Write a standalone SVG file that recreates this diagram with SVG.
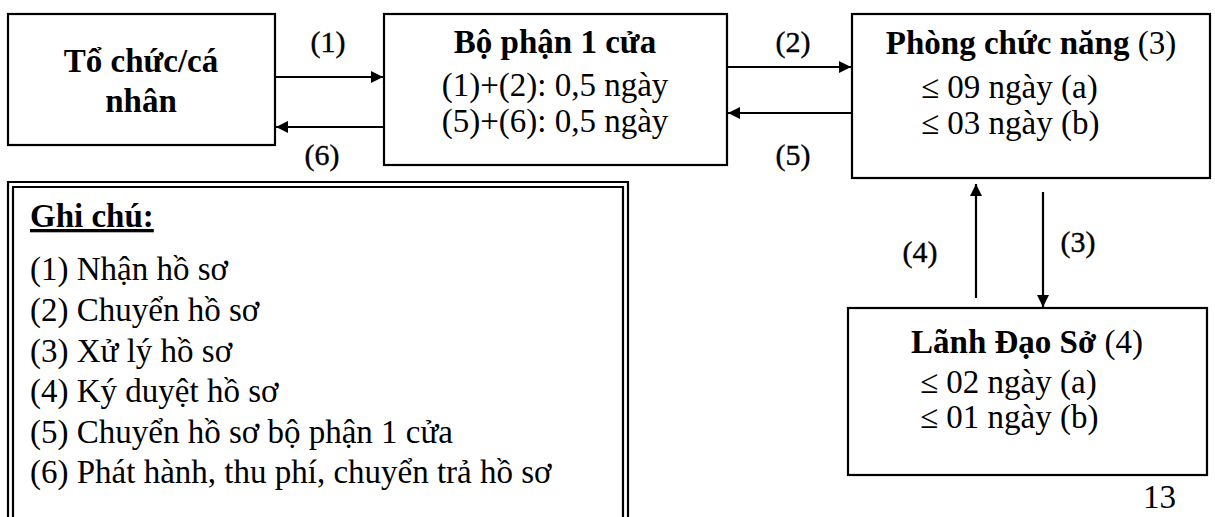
<svg xmlns="http://www.w3.org/2000/svg" width="1215" height="517" viewBox="0 0 1215 517">
<style>
  .box { fill: #fff; stroke: #000; stroke-width: 2.2; }
  .t { font-family: "Liberation Serif", "Times New Roman", serif; font-size: 33px; fill: #000; }
  .b { font-weight: bold; }
  .c { text-anchor: middle; }
  .lbl { font-family: "Liberation Serif", "Times New Roman", serif; font-size: 30px; fill: #000; text-anchor: middle; stroke: #000; stroke-width: 0.4; }
  .ln { stroke: #000; stroke-width: 2.2; fill: none; }
</style>
<defs>
  <marker id="ah" viewBox="0 0 12 12" refX="12" refY="6" markerWidth="12" markerHeight="12" markerUnits="userSpaceOnUse" orient="auto">
    <path d="M0,0 L12,6 L0,12 Z" fill="#000"/>
  </marker>
</defs>
<rect width="1215" height="517" fill="#fff"/>

<g id="connectors">
  <line class="ln" x1="275" y1="77" x2="383" y2="77" marker-end="url(#ah)"/>
  <line class="ln" x1="384" y1="127" x2="276" y2="127" marker-end="url(#ah)"/>
  <line class="ln" x1="727" y1="67" x2="851" y2="67" marker-end="url(#ah)"/>
  <line class="ln" x1="852" y1="113" x2="728" y2="113" marker-end="url(#ah)"/>
  <line class="ln" x1="976" y1="298" x2="976" y2="184" marker-end="url(#ah)"/>
  <line class="ln" x1="1043" y1="192" x2="1043" y2="307" marker-end="url(#ah)"/>
  <text class="lbl" x="328" y="52">(1)</text>
  <text class="lbl" x="322" y="165">(6)</text>
  <text class="lbl" x="793" y="52">(2)</text>
  <text class="lbl" x="793" y="165">(5)</text>
  <text class="lbl" x="920" y="262">(4)</text>
  <text class="lbl" x="1078" y="252">(3)</text>
</g>

<g id="node-to-chuc">
  <rect class="box" x="8" y="14" width="267" height="131"/>
  <text class="t b c" x="141" y="72">Tổ chức/cá</text>
  <text class="t b c" x="141" y="112">nhân</text>
</g>

<g id="node-bo-phan">
  <rect class="box" x="384" y="14" width="343" height="151"/>
  <text class="t b c" x="555" y="53">Bộ phận 1 cửa</text>
  <text class="t c" x="555" y="96">(1)+(2): 0,5 ngày</text>
  <text class="t c" x="555" y="132">(5)+(6): 0,5 ngày</text>
</g>

<g id="node-phong">
  <rect class="box" x="852" y="14" width="358" height="164"/>
  <text class="t c" x="1031" y="54"><tspan class="b">Phòng chức năng</tspan> (3)</text>
  <text class="t" x="921" y="98">≤ 09 ngày (a)</text>
  <text class="t" x="921" y="134">≤ 03 ngày (b)</text>
</g>

<g id="node-lanh-dao">
  <rect class="box" x="848" y="308" width="359" height="167"/>
  <text class="t c" x="1027" y="353"><tspan class="b">Lãnh Đạo Sở</tspan> (4)</text>
  <text class="t" x="920" y="393">≤ 02 ngày (a)</text>
  <text class="t" x="920" y="428">≤ 01 ngày (b)</text>
</g>

<g id="legend">
  <path class="ln" d="M8,530 L8,182 L628,182 L628,530"/>
  <path class="ln" d="M13,530 L13,187 L623,187 L623,530" stroke-width="1.6"/>
  <text class="t b" x="30" y="227" text-decoration="underline">Ghi chú:</text>
  <text class="t" x="30" y="280">(1) Nhận hồ sơ</text>
  <text class="t" x="30" y="321">(2) Chuyển hồ sơ</text>
  <text class="t" x="30" y="362">(3) Xử lý hồ sơ</text>
  <text class="t" x="30" y="402">(4) Ký duyệt hồ sơ</text>
  <text class="t" x="30" y="443">(5) Chuyển hồ sơ bộ phận 1 cửa</text>
  <text class="t" x="30" y="483">(6) Phát hành, thu phí, chuyển trả hồ sơ</text>
</g>

<text class="t" x="1143" y="508" font-size="35">13</text>
</svg>
